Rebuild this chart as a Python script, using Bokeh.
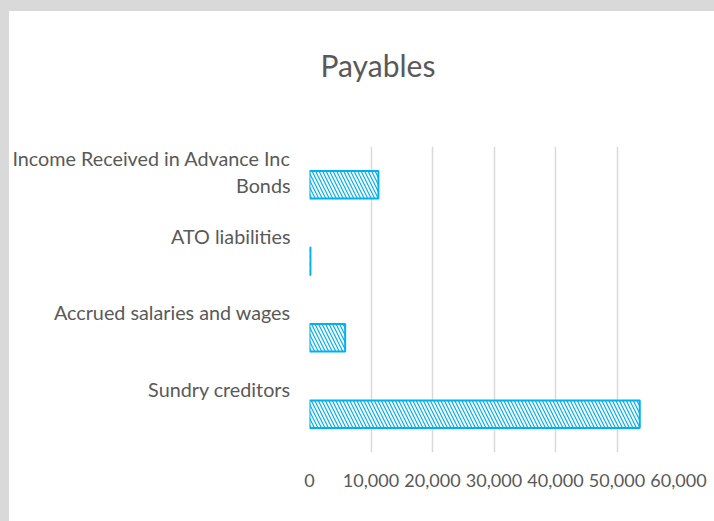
from bokeh.plotting import figure
from bokeh.models import NumeralTickFormatter, SingleIntervalTicker, FixedTicker, Title
from bokeh.layouts import column
from bokeh.embed import file_html
from bokeh.resources import INLINE

# data (bottom to top, as drawn by the chart)
categories = ["Sundry creditors", "Accrued salaries and wages", "ATO liabilities",
              "Income Received in Advance Inc\nBonds"]
values = [53700, 5800, 150, 11200]
chart_title = "Payables"

FONT = "Lato"
TXT = "#595959"
BLUE = "#00b0f0"

p = figure(width=705, height=510, output_backend="svg", toolbar_location=None, title=None,
           x_range=(0, 60000), y_range=(-0.5, len(categories) - 0.5),
           min_border_left=300, min_border_right=36, min_border_bottom=69, min_border_top=135)
p.margin = (11, 0, 0, 9)
p.styles = {"background-color": "white"}

ys = list(range(len(categories)))
p.hbar(y=ys, right=values, left=0, height=0.36, fill_color="white",
       line_color=BLUE, line_width=2, hatch_pattern="\\", hatch_color=BLUE,
       hatch_scale=7, hatch_weight=1.2)

# title; the trailing empty line keeps space between the title and the plot area
p.add_layout(Title(text=chart_title + "\n", align="left", offset=11, vertical_align="top",
                   text_font=FONT, text_font_size="30px", text_font_style="normal",
                   text_color=TXT, standoff=52), "above")

p.outline_line_color = None
p.background_fill_color = "white"
p.border_fill_color = "white"
p.ygrid.grid_line_color = None
p.xgrid.grid_line_color = "#d9d9d9"
p.xgrid.grid_line_width = 1.5

xa = p.xaxis[0]
xa.ticker = SingleIntervalTicker(interval=10000)
xa.formatter = NumeralTickFormatter(format="0,0")
xa.axis_line_color = None
xa.major_tick_line_color = None
xa.minor_tick_line_color = None
xa.major_tick_out = 0
xa.minor_tick_out = 0
xa.major_label_text_font = FONT
xa.major_label_text_font_size = "18px"
xa.major_label_text_color = TXT
xa.major_label_standoff = 21

# category labels sit above their bars (Excel-style wrapped labels)
tick_pos = []
overrides = {}
for y, cat in zip(ys, categories):
    nlines = cat.count("\n") + 1
    shift = 0.327 if nlines == 1 else 0.165
    t = round(y + shift, 3)
    tick_pos.append(t)
    overrides[t] = cat

ya = p.yaxis[0]
ya.ticker = FixedTicker(ticks=tick_pos)
ya.major_label_overrides = overrides
ya.axis_line_color = None
ya.major_tick_line_color = None
ya.minor_tick_line_color = None
ya.major_tick_out = 0
ya.minor_tick_out = 0
ya.major_label_text_font = FONT
ya.major_label_text_font_size = "19.75px"
ya.major_label_text_color = TXT
ya.major_label_standoff = 19

page = column(p, styles={"background-color": "#d9d9d9"})

open("out.html", "w").write(file_html(page, INLINE))
